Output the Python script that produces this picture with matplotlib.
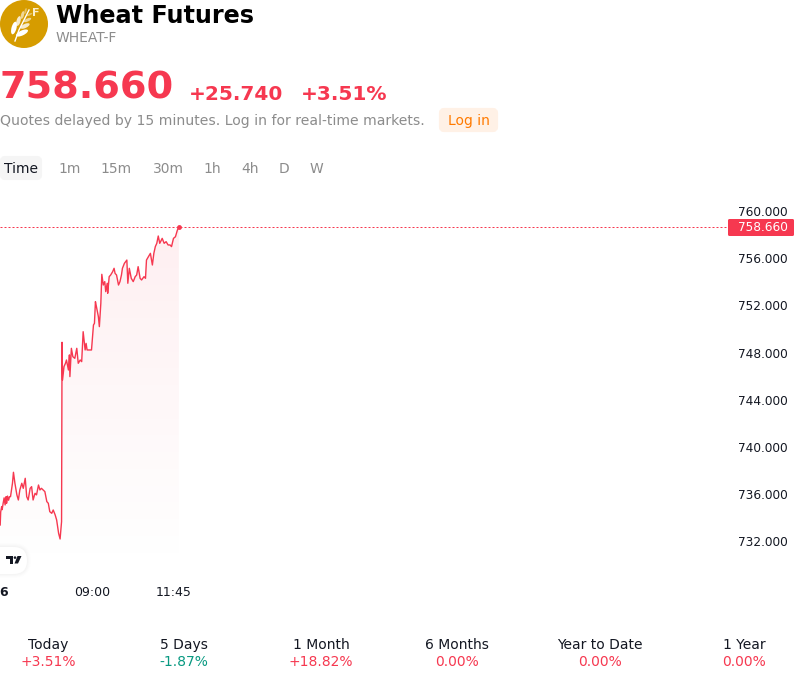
import numpy as np
import matplotlib
matplotlib.use("Agg")
import matplotlib.pyplot as plt
from matplotlib.patches import Circle, Ellipse, FancyBboxPatch, Polygon
from matplotlib.transforms import ScaledTranslation

# minutes from 09:00, price
minutes = [-187, -186, -184, -183, -181, -179, -177, -175, -174, -172, -170, -168, -166, -162, -160, -157, -153, -150,
           -147, -143, -140, -136, -133, -130,
           -126, -123, -120, -116, -113, -109, -106, -103, -96, -92, -89, -86, -82, -79, -75, -72, -68, -65, -62,
           -61, -60, -57, -54, -52, -48, -46, -45, -42, -39, -35, -31, -28, -24, -21, -18, -14, -12, -10, -5, -1,
           3, 5, 7, 9, 13, 15, 18, 20, 23, 26, 28, 31, 32, 35, 38, 42, 45, 47, 50, 54, 57, 60, 62, 66, 71, 73, 76,
           80, 84, 88, 91, 94, 98, 101, 106, 109, 111, 115, 119, 123, 126, 129, 132, 135, 138, 143, 147, 151, 155,
           159, 162, 166, 170, 174, 177]
prices = [733.40, 734.50, 734.96, 734.70, 735.24, 735.70, 735.10, 735.80, 735.24, 735.85, 735.50, 735.80, 735.80,
          736.94, 737.87, 736.94, 735.95, 735.52, 736.37,
          736.94, 736.51, 737.36, 735.80, 735.52, 736.51, 736.65, 735.52, 736.09, 735.95, 736.79, 736.37, 736.51,
          736.23, 735.38, 735.24, 734.53, 734.39, 734.67, 734.25, 733.82, 732.69, 732.21, 733.68,
          748.90, 745.70, 746.84, 747.12, 747.40, 746.55, 747.83, 745.99, 748.39, 747.68, 747.54, 748.39, 747.12,
          747.40, 747.26, 749.80, 748.25, 748.81, 748.25, 748.25, 748.25, 750.37, 750.51, 752.35, 751.93, 751.08,
          750.23, 752.21, 754.67, 753.76, 754.05, 753.20, 753.91, 753.06, 754.47, 754.61, 754.89, 755.18, 754.75,
          754.61, 753.76, 754.05, 754.61, 755.18, 755.60, 755.88, 753.91, 755.18, 754.33, 754.05, 754.47, 754.61,
          755.32, 754.33, 754.19, 754.47, 754.33, 755.88, 756.17, 756.45, 755.46, 756.45, 757.02, 757.30, 757.92,
          757.30, 757.72, 757.30, 757.44, 757.16, 757.16, 757.02, 757.72, 757.86, 758.43, 758.66]
last_price = 758.66
y_ticks = [732, 736, 740, 744, 748, 752, 756, 760]
x_ticks = [-181, 0, 167]
x_labels = ["6", "09:00", "11:45"]
intervals = ["Time", "1m", "15m", "30m", "1h", "4h", "D", "W"]
interval_x = [21, 69.5, 116, 168, 212.5, 250, 284.5, 316.5]
periods = ["Today", "5 Days", "1 Month", "6 Months", "Year to Date", "1 Year"]
period_changes = ["+3.51%", "-1.87%", "+18.82%", "0.00%", "0.00%", "0.00%"]
period_x = [48, 184, 321, 457, 600, 744]

RED = "#f63850"
GREEN = "#089981"
GREY = "#8c8c8c"

plt.rcParams["font.family"] = "DejaVu Sans"
fig = plt.figure(figsize=(8, 6.82), dpi=100)

# price chart
ax = fig.add_axes([0, 1 - 580 / 682, 728 / 800, 385 / 682])
for s in ax.spines.values():
    s.set_visible(False)
ax.plot(minutes, prices, color=RED, lw=1.0, solid_joinstyle="round", zorder=3)
ax.axhline(last_price, color=RED, lw=0.72, ls=(0, (2, 2)), zorder=2)
ax.plot(minutes[-1], prices[-1], "o", color=RED, ms=3.5, mew=0, zorder=4)

# gradient under the line
grad = np.ones((256, 1, 4))
grad[:, 0, 0] = 0.965
grad[:, 0, 1] = 0.22
grad[:, 0, 2] = 0.31
grad[:, 0, 3] = np.linspace(0.08, 0.0, 256)
img = ax.imshow(grad, extent=[minutes[0], minutes[-1], 729.6, 758.7], aspect="auto", origin="upper", zorder=1)
clip = Polygon(list(zip(minutes, prices)) + [(minutes[-1], 729.6), (minutes[0], 729.6)], transform=ax.transData,
               facecolor="none", edgecolor="none")
ax.add_patch(clip)
img.set_clip_path(clip)
ax.set_xlim(-187.4, 1295.6)
ax.set_ylim(728.73, 761.40)

ax.yaxis.tick_right()
ax.set_yticks(y_ticks)
ax.set_yticklabels([f"{v:.3f}" for v in y_ticks], fontsize=8.7, color="#131722")
ax.tick_params(axis="y", length=0, pad=7)
for lab in ax.get_yticklabels():
    lab.set_transform(lab.get_transform() + ScaledTranslation(0, 0.3 / 100, fig.dpi_scale_trans))
ax.set_xticks(x_ticks)
ax.set_xticklabels(x_labels, fontsize=9, color="#131722")
ax.tick_params(axis="x", length=0, pad=4.5)
ax.get_xticklabels()[0].set_fontweight("bold")

# everything around the chart, in pixel coordinates
ui = fig.add_axes([0, 0, 1, 1], facecolor="none", zorder=5)
ui.set_xlim(0, 800)
ui.set_ylim(682, 0)
ui.axis("off")

# logo
ui.add_patch(Circle((24, 24), 24, color="#d69c00", lw=0))
left_leaves = [(14, 28, 13, 5), (18.5, 21, 10, 4), (22.5, 15, 8, 3), (25.5, 11, 6, 2)]
right_leaves = [(22, 33, 13, 5), (25, 26, 10, 4), (27.5, 20, 8, 3), (29.5, 14.5, 6, 2)]
for i, (lx, ly, w, h) in enumerate(left_leaves):
    ui.add_patch(Ellipse((lx, ly), w, h, angle=-75, color="white", lw=0, alpha=1 - i * 0.2))
for i, (lx, ly, w, h) in enumerate(right_leaves):
    ui.add_patch(Ellipse((lx, ly), w, h, angle=-25, color="white", lw=0, alpha=1 - i * 0.2))
ui.plot([15, 19, 29], [41, 30, 10], color="white", lw=1)
ui.text(35.5, 13.2, "F", color="#fbeecb", fontsize=8, fontweight="bold", ha="center", va="center")

ui.text(56, 16, "Wheat Futures", fontsize=17.2, fontweight="bold", color="black", va="center")
ui.text(56, 38.5, "WHEAT-F", fontsize=10, color=GREY, va="center")
ui.text(0, 88.5, "758.660", fontsize=27.5, fontweight="bold", color=RED, va="center")
ui.text(189, 94, "+25.740", fontsize=14.5, fontweight="bold", color=RED, va="center")
ui.text(301, 94, "+3.51%", fontsize=14.5, fontweight="bold", color=RED, va="center")
ui.text(0, 120.7, "Quotes delayed by 15 minutes. Log in for real-time markets.", fontsize=10.05, color=GREY, va="center")
ui.add_patch(FancyBboxPatch((441, 110), 55, 20, boxstyle="round,pad=0,rounding_size=3", fc="#fff1e6", ec="#fff1e6", lw=3))
ui.text(468.5, 120.7, "Log in", fontsize=10, color="#ff7a00", ha="center", va="center")

ui.add_patch(FancyBboxPatch((2, 158), 38, 20, boxstyle="round,pad=0,rounding_size=3", fc="#f5f5f5", ec="#f5f5f5", lw=3))
for i, (lab, x) in enumerate(zip(intervals, interval_x)):
    ui.text(x, 169, lab, fontsize=10, color="#131722" if i == 0 else GREY, ha="center", va="center")

# last price tag
ui.add_patch(FancyBboxPatch((728, 219), 66, 17, boxstyle="round,pad=0,rounding_size=1.5", fc=RED, ec="none"))
ui.text(788, 227.5, "758.660", fontsize=8.7, color="white", ha="right", va="center")

# tradingview badge
for grow, a in [(4, 0.006), (3, 0.008), (2, 0.01), (1, 0.012)]:
    ui.add_patch(FancyBboxPatch((-20 - grow, 547 - grow), 47 + 2 * grow, 27 + 2 * grow,
                                boxstyle=f"round,pad=0,rounding_size={13.5 + grow}", fc="black", ec="none", alpha=a))
ui.add_patch(FancyBboxPatch((-20, 547), 47, 27, boxstyle="round,pad=0,rounding_size=13.5", fc="white", ec="none"))
ui.add_patch(Polygon([(6, 556), (13, 556), (13, 563.5), (9.5, 563.5), (9.5, 558.6), (6, 558.6)], fc="#131722", lw=0))
ui.add_patch(Ellipse((15, 557.6), 2.6, 2.6, fc="#131722", lw=0))
ui.add_patch(Polygon([(17.5, 556), (21.5, 556), (18, 563.5), (14.5, 563.5)], fc="#131722", lw=0))

# period performance row
for lab, chg, x in zip(periods, period_changes, period_x):
    ui.text(x, 645, lab, fontsize=10, color="#131722", ha="center", va="center")
    ui.text(x, 662.5, chg, fontsize=10, color=GREEN if chg.startswith("-") else RED, ha="center", va="center")

fig.savefig("out.png", dpi=100)
